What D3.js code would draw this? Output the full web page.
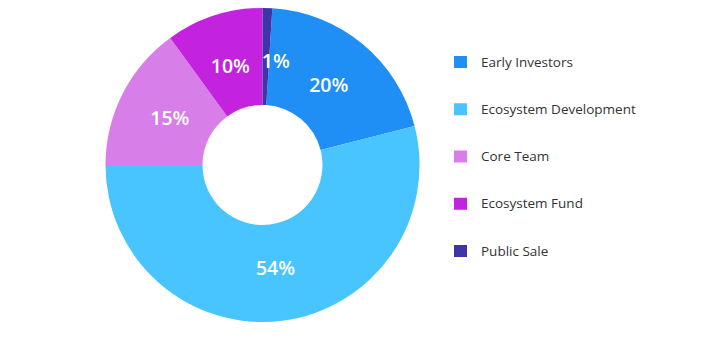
<!DOCTYPE html>
<html><head><meta charset="utf-8">
<script src="https://cdn.jsdelivr.net/npm/d3@7"></script>
<style>
html,body{margin:0;padding:0;background:#fff;}
svg{display:block;font-family:"Open Sans","Noto Sans",sans-serif;}
</style></head>
<body>
<svg id="chart" width="705" height="363"></svg>
<script>
const categories = ["Early Investors","Ecosystem Development","Core Team","Ecosystem Fund","Public Sale"];
const values = [20, 54, 15, 10, 1];
const colors = ["#1f8ef5","#48c4ff","#d87ee8","#c322df","#3d35a8"];

const svg = d3.select("#chart");
const cx = 262.5, cy = 165, rOuter = 157, rInner = 60;

const total = d3.sum(values);
const offset = 2*Math.PI*values[4]/total; // Public Sale sits first at top
const pie = d3.pie().sort(null).value(d=>d.v)
  .startAngle(offset).endAngle(2*Math.PI+offset);
const data = categories.map((c,i)=>({c, v:values[i], col:colors[i]}));
const arcs = pie(data);
const arc = d3.arc().innerRadius(rInner).outerRadius(rOuter);
const labelArc = d3.arc().innerRadius(104).outerRadius(104);

const g = svg.append("g").attr("transform",`translate(${cx},${cy})`);
g.selectAll("path").data(arcs).join("path")
  .attr("d",arc).attr("fill",d=>d.data.col);

g.selectAll("text").data(arcs).join("text")
  .attr("transform",d=>{const [x,y]=labelArc.centroid(d);return `translate(${x},${y})`;})
  .attr("text-anchor",d=>(d.endAngle-d.startAngle)<0.1?"start":"middle")
  .attr("dx",d=>(d.endAngle-d.startAngle)<0.1?-4:0)
  .attr("dy","0.35em")
  .attr("fill","#fff").attr("font-size",19.5).attr("font-weight",600)
  .text(d=>Math.round(d.data.v/total*100)+"%");

const legend = svg.append("g").attr("transform","translate(454,62)");
const y = d3.scalePoint().domain(categories).range([0,189]);
const item = legend.selectAll("g").data(data).join("g")
  .attr("transform",d=>`translate(0,${y(d.c)})`);
item.append("rect").attr("x",0).attr("y",-6).attr("width",13).attr("height",12).attr("fill",d=>d.col);
item.append("text").attr("x",27).attr("dy","0.35em").attr("font-size",13.5)
  .attr("fill","#333").text(d=>d.c);
</script>
</body></html>
